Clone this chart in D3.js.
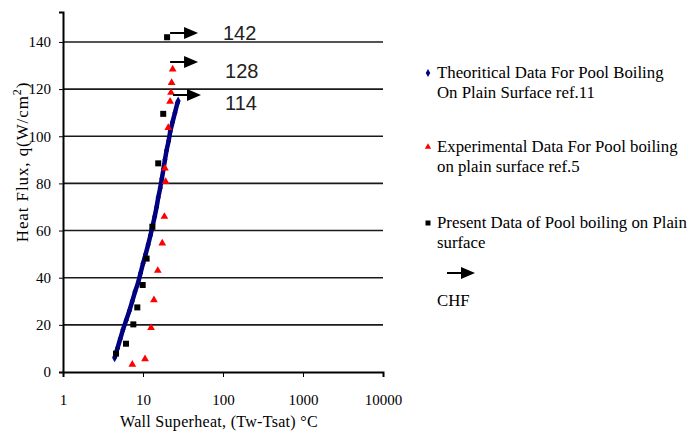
<!DOCTYPE html>
<html>
<head>
<meta charset="utf-8">
<script src="https://cdn.jsdelivr.net/npm/d3@7"></script>
<style>
  body { margin: 0; background: #fff; }
  text { font-family: "Liberation Serif", "Times New Roman", serif; }
  .axis text { font-size: 15px; fill: #000; }
  .axis path, .axis line { stroke: #000; }
  .chf-label { font-family: "Liberation Sans", Arial, sans-serif; }
</style>
</head>
<body>
<svg id="chart"></svg>
<script>
// Theoretical data (ref.11)
const theoSuperheat = [4.42, 4.79, 5.19, 5.62, 6.17, 6.76, 7.33, 7.94, 8.71, 9.33, 10.0, 10.8, 11.6, 12.4,
                       13.2, 14.0, 14.8, 15.5, 16.4, 17.2, 18.0, 18.8, 19.7, 20.9, 21.9, 23.4, 25.1, 26.9, 27.5];
const theoFlux = [6, 10, 14, 18, 22, 26, 30, 34, 38, 42, 46, 50, 54, 58,
                  62, 66, 70, 74, 78, 82, 86, 90, 94, 98, 102, 106, 110, 114, 115];

// Experimental data (ref.5)
const expSuperheat = [7.35, 10.6, 12.6, 13.7, 15.3, 17.4, 18.5, 19.2, 18.8, 20.7, 21.8, 22.4, 22.8, 23.5];
const expFlux = [3.2, 5.5, 18.8, 30.5, 43, 54.6, 65.9, 80.7, 86.4, 103.6, 114.7, 118.5, 122.7, 128.4];

// Present data
const presSuperheat = [4.6, 6.13, 7.57, 8.49, 9.91, 11.1, 13.1, 15.5, 17.9, 20.0];
const presFlux = [7.8, 12.0, 20.2, 27.4, 36.9, 48.1, 61.6, 88.5, 109.5, 142];

// CHF annotations
const chfLabels = [142, 128, 114];
const chfArrowX = [21.8, 21.8, 23.7];
const chfArrowQ = [143.8, 131.5, 117.5];
const chfLabelX = [100, 106, 106];
const chfLabelQ = [140.7, 124.7, 111.2];

const xTicks = [1, 10, 100, 1000, 10000];
const yTicks = [0, 20, 40, 60, 80, 100, 120, 140];

const legendItems = [
  {type: 'theo', lines: ['Theoritical Data For Pool Boiling', 'On Plain Surface ref.11']},
  {type: 'exp', lines: ['Experimental Data For Pool boiling', 'on plain surface ref.5']},
  {type: 'pres', lines: ['Present Data of Pool boiling on Plain', 'surface']}
];

const width = 691, height = 434;
const margin = {top: 12, right: 308, bottom: 62, left: 63};

const svg = d3.select('#chart')
    .attr('width', width)
    .attr('height', height);

svg.append('rect').attr('width', width).attr('height', height).attr('fill', '#fff');

const x = d3.scaleLog()
    .domain([1, 10000])
    .range([margin.left, width - margin.right]);

const y = d3.scaleLinear()
    .domain([0, 152.7])
    .range([height - margin.bottom, margin.top]);

// Gridlines
svg.append('g')
  .selectAll('line')
  .data(yTicks.filter(d => d > 0))
  .join('line')
    .attr('x1', x(1))
    .attr('x2', x(10000))
    .attr('y1', d => y(d))
    .attr('y2', d => y(d))
    .attr('stroke', '#1a1a1a')
    .attr('stroke-width', 1.6);

// Axes
const xAxis = d3.axisBottom(x)
    .tickValues(xTicks)
    .tickFormat(d3.format('d'))
    .tickSizeOuter(0)
    .tickSize(5)
    .tickPadding(17);

svg.append('g')
    .attr('class', 'axis x-axis')
    .attr('transform', `translate(0,${y(0)})`)
    .call(xAxis)
    .call(g => g.select('.domain').attr('stroke-width', 2));

const yAxis = d3.axisLeft(y)
    .tickValues(yTicks)
    .tickFormat(d3.format('d'))
    .tickSizeOuter(0)
    .tickSize(4)
    .tickPadding(8);

svg.append('g')
    .attr('class', 'axis y-axis')
    .attr('transform', `translate(${x(1)},0)`)
    .call(yAxis)
    .call(g => g.select('.domain').attr('stroke-width', 2));

// Theoretical curve: thick band of dense markers
const theo = theoSuperheat.map((d, i) => ({x: d, y: theoFlux[i]}));
svg.append('path')
    .datum(theo)
    .attr('fill', 'none')
    .attr('stroke', '#000080')
    .attr('stroke-width', 4.5)
    .attr('d', d3.line().x(d => x(d.x)).y(d => y(d.y)));

svg.append('g')
  .selectAll('path')
  .data(theo)
  .join('path')
    .attr('transform', d => `translate(${x(d.x)},${y(d.y)})`)
    .attr('d', d3.symbol(d3.symbolDiamond, 22))
    .attr('fill', '#000080');

// Experimental data
svg.append('g')
  .selectAll('path')
  .data(expSuperheat.map((d, i) => ({x: d, y: expFlux[i]})))
  .join('path')
    .attr('transform', d => `translate(${x(d.x)},${y(d.y)})`)
    .attr('d', d3.symbol(d3.symbolTriangle, 26))
    .attr('fill', '#ff0000');

// Present data
svg.append('g')
  .selectAll('rect')
  .data(presSuperheat.map((d, i) => ({x: d, y: presFlux[i]})))
  .join('rect')
    .attr('x', d => x(d.x) - 3)
    .attr('y', d => y(d.y) - 3)
    .attr('width', 6)
    .attr('height', 6)
    .attr('fill', '#000');

// Arrow helper
function arrow(g, x0, y0, len) {
  g.append('line')
      .attr('x1', x0).attr('x2', x0 + len - 12)
      .attr('y1', y0).attr('y2', y0)
      .attr('stroke', '#000').attr('stroke-width', 2);
  g.append('path')
      .attr('d', `M${x0 + len - 14},${y0 - 6}L${x0 + len},${y0}L${x0 + len - 14},${y0 + 6}Z`)
      .attr('fill', '#000');
}

const chf = svg.append('g');
chfLabels.forEach((v, i) => {
  arrow(chf, x(chfArrowX[i]), y(chfArrowQ[i]), 28);
  chf.append('text')
      .attr('class', 'chf-label')
      .attr('x', x(chfLabelX[i]))
      .attr('y', y(chfLabelQ[i]))
      .attr('font-size', 20)
      .attr('fill', '#222')
      .text(v);
});

// Axis titles
svg.append('text')
    .attr('x', 219)
    .attr('y', 427)
    .attr('text-anchor', 'middle')
    .attr('font-size', 16)
    .attr('letter-spacing', 0.3)
    .text('Wall Superheat, (Tw-Tsat) °C');

const yTitle = svg.append('text')
    .attr('transform', 'translate(28,162) rotate(-90)')
    .attr('text-anchor', 'middle')
    .attr('font-size', 17)
    .attr('letter-spacing', 0.9);
yTitle.append('tspan').text('Heat Flux, q(W/cm');
yTitle.append('tspan').attr('dy', -7).attr('font-size', 12).text('2');
yTitle.append('tspan').attr('dy', 7).text(')');

// Legend
const legend = svg.append('g').attr('transform', 'translate(428,0)');
const legendY = [73, 147, 223];
legendItems.forEach((item, i) => {
  const g = legend.append('g').attr('transform', `translate(0,${legendY[i]})`);
  if (item.type === 'theo') {
    g.append('path').attr('d', d3.symbol(d3.symbolDiamond, 18)).attr('fill', '#000080');
  } else if (item.type === 'exp') {
    g.append('path').attr('d', d3.symbol(d3.symbolTriangle, 18)).attr('fill', '#ff0000');
  } else {
    g.append('rect').attr('x', -2.5).attr('y', -2.5).attr('width', 5).attr('height', 5).attr('fill', '#000');
  }
  item.lines.forEach((t, j) => {
    g.append('text')
        .attr('transform', `translate(9,${5 + j * 20}) scale(1.05,1)`)
        .attr('font-size', 16)
        .text(t);
  });
});
arrow(legend, 19, 273, 28);
legend.append('text')
    .attr('transform', 'translate(9,306) scale(1.05,1)')
    .attr('font-size', 16)
    .text('CHF');
</script>
</body>
</html>
